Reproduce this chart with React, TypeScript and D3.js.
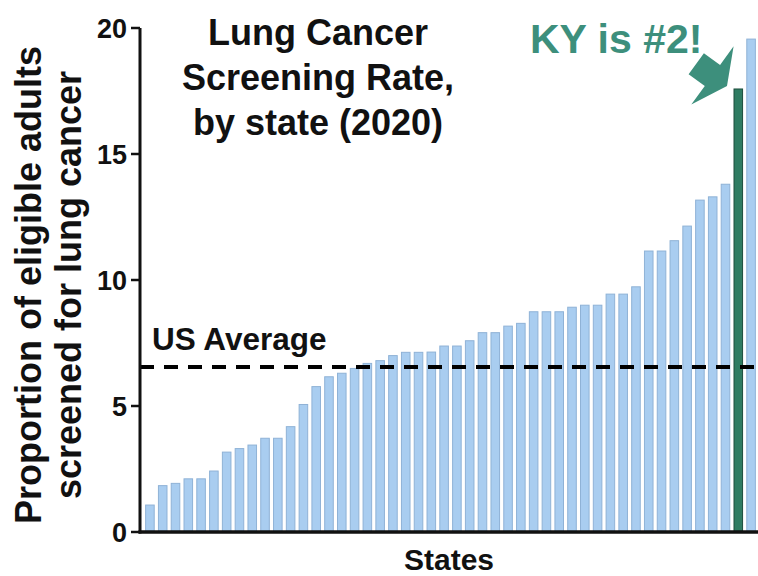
import React from "react";
import * as d3 from "d3";

const states: string[] = Array.from({ length: 48 }, (_, i) => `S${i + 1}`);
const rates: number[] = [
  1.07, 1.84, 1.93, 2.11, 2.11, 2.42, 3.17, 3.31, 3.45, 3.72, 3.72, 4.18,
  5.06, 5.77, 6.16, 6.3, 6.49, 6.69, 6.8, 7.0, 7.13, 7.13, 7.14, 7.38,
  7.38, 7.59, 7.91, 7.91, 8.17, 8.28, 8.74, 8.74, 8.74, 8.92, 9.0, 9.0,
  9.44, 9.44, 9.73, 11.15, 11.15, 11.56, 12.14, 13.17, 13.3, 13.8, 17.58, 19.56,
];
const highlightIndex = 46; // KY
const usAverage = 6.55;
const yTicks: number[] = [0, 5, 10, 15, 20];
const titleLines: string[] = ["Lung Cancer", "Screening Rate,", "by state (2020)"];
const yLabelLines: string[] = ["Proportion of eligible adults", "screened for lung cancer"];

const W = 758;
const H = 576;
const FONT = "'Liberation Sans', Arial, Helvetica, sans-serif";

export default function App() {
  const x = d3
    .scaleBand<string>()
    .domain(states)
    .range([145, 756])
    .paddingInner(0.33)
    .paddingOuter(0.05);
  const y = d3.scaleLinear().domain([0, 20]).range([532, 28]);
  const axisX = 140;

  const arrowPts: [number, number][] = [
    [0, 0],
    [-18, -36],
    [-18, -13],
    [-38, -13],
    [-38, 13],
    [-18, 13],
    [-18, 36],
  ];

  return (
    <svg
      width={W}
      height={H}
      viewBox={`0 0 ${W} ${H}`}
      style={{ position: "absolute", left: 0, top: 0, background: "#fff" }}
      fontFamily={FONT}
      fontWeight="bold"
    >
      <rect x={0} y={0} width={W} height={H} fill="#fff" />
      {rates.map((v, i) => {
        const isKY = i === highlightIndex;
        return (
          <rect
            key={states[i]}
            x={x(states[i])}
            y={y(v)}
            width={x.bandwidth()}
            height={y(0) - y(v)}
            fill={isKY ? "#2f7c62" : "#a9cdf0"}
            stroke={isKY ? "#1c4d3c" : "#8fb2d6"}
            strokeWidth={1}
          />
        );
      })}
      <line
        x1={axisX}
        x2={757}
        y1={y(usAverage)}
        y2={y(usAverage)}
        stroke="#000"
        strokeWidth={4}
        strokeDasharray="14 10"
      />
      <text x={152} y={y(usAverage) - 17} fontSize={31.5} fill="#111">
        US Average
      </text>
      <line x1={axisX} x2={axisX} y1={y(20)} y2={y(0) + 1.5} stroke="#111" strokeWidth={3} />
      <line x1={axisX - 1.5} x2={758} y1={y(0)} y2={y(0)} stroke="#111" strokeWidth={3.5} />
      {yTicks.map((t) => (
        <g key={t}>
          <line x1={axisX - 9} x2={axisX} y1={y(t)} y2={y(t)} stroke="#111" strokeWidth={2.5} />
          <text
            x={axisX - 13}
            y={y(t)}
            dy="0.36em"
            textAnchor="end"
            fontSize={27}
            fill="#111"
          >
            {t}
          </text>
        </g>
      ))}
      {yLabelLines.map((l, i) => (
        <text
          key={l}
          transform={`translate(${41 + i * 40},285) rotate(-90)`}
          textAnchor="middle"
          fontSize={36}
          fill="#111"
        >
          {l}
        </text>
      ))}
      <text x={449} y={570} textAnchor="middle" fontSize={30} fill="#111">
        States
      </text>
      {titleLines.map((l, i) => (
        <text key={l} x={318} y={45 + i * 45} textAnchor="middle" fontSize={36} fill="#111">
          {l}
        </text>
      ))}
      <text x={530} y={53} fontSize={41} fill="#3d8f7c">
        KY is #2!
      </text>
      <polygon
        points={arrowPts.map((p) => p.join(",")).join(" ")}
        transform="translate(727,86) rotate(36)"
        fill="#3d8f7c"
      />
    </svg>
  );
}
